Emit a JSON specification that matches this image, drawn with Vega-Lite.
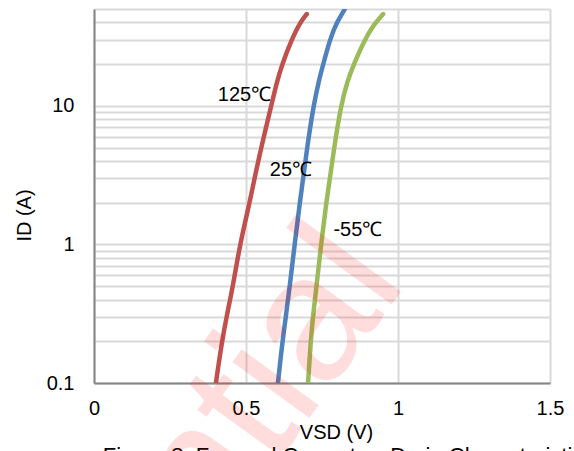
{
  "$schema": "https://vega.github.io/schema/vega-lite/v6.json",
  "width": 456,
  "height": 374,
  "autosize": {"type": "none"},
  "padding": {"left": 94, "top": 9, "right": 24, "bottom": 68},
  "background": "white",
  "config": {
    "view": {"stroke": null},
    "font": "Liberation Sans",
    "axis": {
      "ticks": false,
      "labelFontSize": 20,
      "labelColor": "#000000",
      "labelFlush": false,
      "labelBound": false,
      "labelOverlap": false,
      "gridColor": "#d9d9d9",
      "gridWidth": 2,
      "domainColor": "#868686",
      "domainWidth": 2,
      "titleFontSize": 20,
      "titleFontWeight": "normal",
      "titleColor": "#000000"
    }
  },
  "datasets": {
    "curves": [
      {"T": "125℃", "V": 0.401, "I": 0.1},
      {"T": "125℃", "V": 0.421, "I": 0.2},
      {"T": "125℃", "V": 0.436, "I": 0.3},
      {"T": "125℃", "V": 0.457, "I": 0.5},
      {"T": "125℃", "V": 0.480, "I": 1},
      {"T": "125℃", "V": 0.512, "I": 2},
      {"T": "125℃", "V": 0.528, "I": 3},
      {"T": "125℃", "V": 0.550, "I": 5},
      {"T": "125℃", "V": 0.583, "I": 10},
      {"T": "125℃", "V": 0.602, "I": 15},
      {"T": "125℃", "V": 0.619, "I": 20},
      {"T": "125℃", "V": 0.650, "I": 30},
      {"T": "125℃", "V": 0.678, "I": 40},
      {"T": "125℃", "V": 0.700, "I": 46},
      {"T": "25℃", "V": 0.605, "I": 0.1},
      {"T": "25℃", "V": 0.620, "I": 0.2},
      {"T": "25℃", "V": 0.631, "I": 0.3},
      {"T": "25℃", "V": 0.644, "I": 0.5},
      {"T": "25℃", "V": 0.660, "I": 1},
      {"T": "25℃", "V": 0.677, "I": 2},
      {"T": "25℃", "V": 0.688, "I": 3},
      {"T": "25℃", "V": 0.701, "I": 5},
      {"T": "25℃", "V": 0.722, "I": 10},
      {"T": "25℃", "V": 0.739, "I": 15},
      {"T": "25℃", "V": 0.754, "I": 20},
      {"T": "25℃", "V": 0.776, "I": 30},
      {"T": "25℃", "V": 0.798, "I": 40},
      {"T": "25℃", "V": 0.826, "I": 50},
      {"T": "25℃", "V": 0.836, "I": 56},
      {"T": "-55℃", "V": 0.704, "I": 0.1},
      {"T": "-55℃", "V": 0.713, "I": 0.2},
      {"T": "-55℃", "V": 0.720, "I": 0.3},
      {"T": "-55℃", "V": 0.732, "I": 0.5},
      {"T": "-55℃", "V": 0.747, "I": 1},
      {"T": "-55℃", "V": 0.764, "I": 2},
      {"T": "-55℃", "V": 0.776, "I": 3},
      {"T": "-55℃", "V": 0.790, "I": 5},
      {"T": "-55℃", "V": 0.812, "I": 10},
      {"T": "-55℃", "V": 0.833, "I": 15},
      {"T": "-55℃", "V": 0.855, "I": 20},
      {"T": "-55℃", "V": 0.890, "I": 30},
      {"T": "-55℃", "V": 0.922, "I": 39},
      {"T": "-55℃", "V": 0.951, "I": 46}
    ],
    "labels": [
      {"text": "125℃", "V": 0.495, "I": 12.0},
      {"text": "25℃", "V": 0.648, "I": 3.45},
      {"text": "-55℃", "V": 0.868, "I": 1.27}
    ],
    "caption": [
      {"text": "Figure 8. Forward Current vs Drain Characteristics", "V": 0.029, "I": 0.0264}
    ],
    "watermark": [
      {"text": "Confidential", "V": 1.033, "I": 0.536}
    ]
  },
  "layer": [
    {
      "data": {"name": "curves"},
      "mark": {"type": "line", "interpolate": "basis", "strokeWidth": 4.5, "strokeCap": "round", "clip": true},
      "encoding": {
        "x": {
          "field": "V", "type": "quantitative",
          "scale": {"domain": [0, 1.5], "nice": false, "zero": false},
          "axis": {
            "values": [0, 0.5, 1, 1.5],
            "format": ".1~f",
            "labelPadding": 15,
            "title": "VSD (V)",
            "titleX": 242,
            "titleY": 49,
            "titleAlign": "center",
            "titleBaseline": "middle"
          }
        },
        "y": {
          "field": "I", "type": "quantitative",
          "scale": {"type": "log", "domain": [0.1, 50], "nice": false},
          "axis": {
            "values": [0.1, 0.2, 0.3, 0.4, 0.5, 0.6, 0.7, 0.8, 0.9, 1, 2, 3, 4, 5, 6, 7, 8, 9, 10, 20, 30, 40, 50],
            "labelExpr": "datum.value == 0.1 ? '0.1' : datum.value == 1 ? '1' : datum.value == 10 ? '10' : ''",
            "labelPadding": 20,
            "title": "ID (A)",
            "titleAngle": -90,
            "titleX": -70,
            "titleY": 206,
            "titleAlign": "center",
            "titleBaseline": "middle"
          }
        },
        "color": {
          "field": "T", "type": "nominal",
          "scale": {"domain": ["125℃", "25℃", "-55℃"], "range": ["#c0504d", "#4f81bd", "#9bbb59"]},
          "legend": null
        },
        "order": {"field": "I", "type": "quantitative"}
      }
    },
    {
      "data": {"name": "labels"},
      "mark": {"type": "text", "fontSize": 20, "color": "#000000", "align": "center", "baseline": "middle"},
      "encoding": {
        "x": {"field": "V", "type": "quantitative"},
        "y": {"field": "I", "type": "quantitative"},
        "text": {"field": "text"}
      }
    },
    {
      "data": {"name": "caption"},
      "mark": {"type": "text", "fontSize": 22, "color": "#000000", "align": "left", "baseline": "alphabetic"},
      "encoding": {
        "x": {"field": "V", "type": "quantitative"},
        "y": {"field": "I", "type": "quantitative"},
        "text": {"field": "text"}
      }
    },
    {
      "data": {"name": "watermark"},
      "mark": {"type": "text", "fontSize": 180, "color": "#ff0000", "opacity": 0.13, "align": "right", "baseline": "alphabetic", "angle": -54},
      "encoding": {
        "x": {"field": "V", "type": "quantitative"},
        "y": {"field": "I", "type": "quantitative"},
        "text": {"field": "text"}
      }
    }
  ]
}
